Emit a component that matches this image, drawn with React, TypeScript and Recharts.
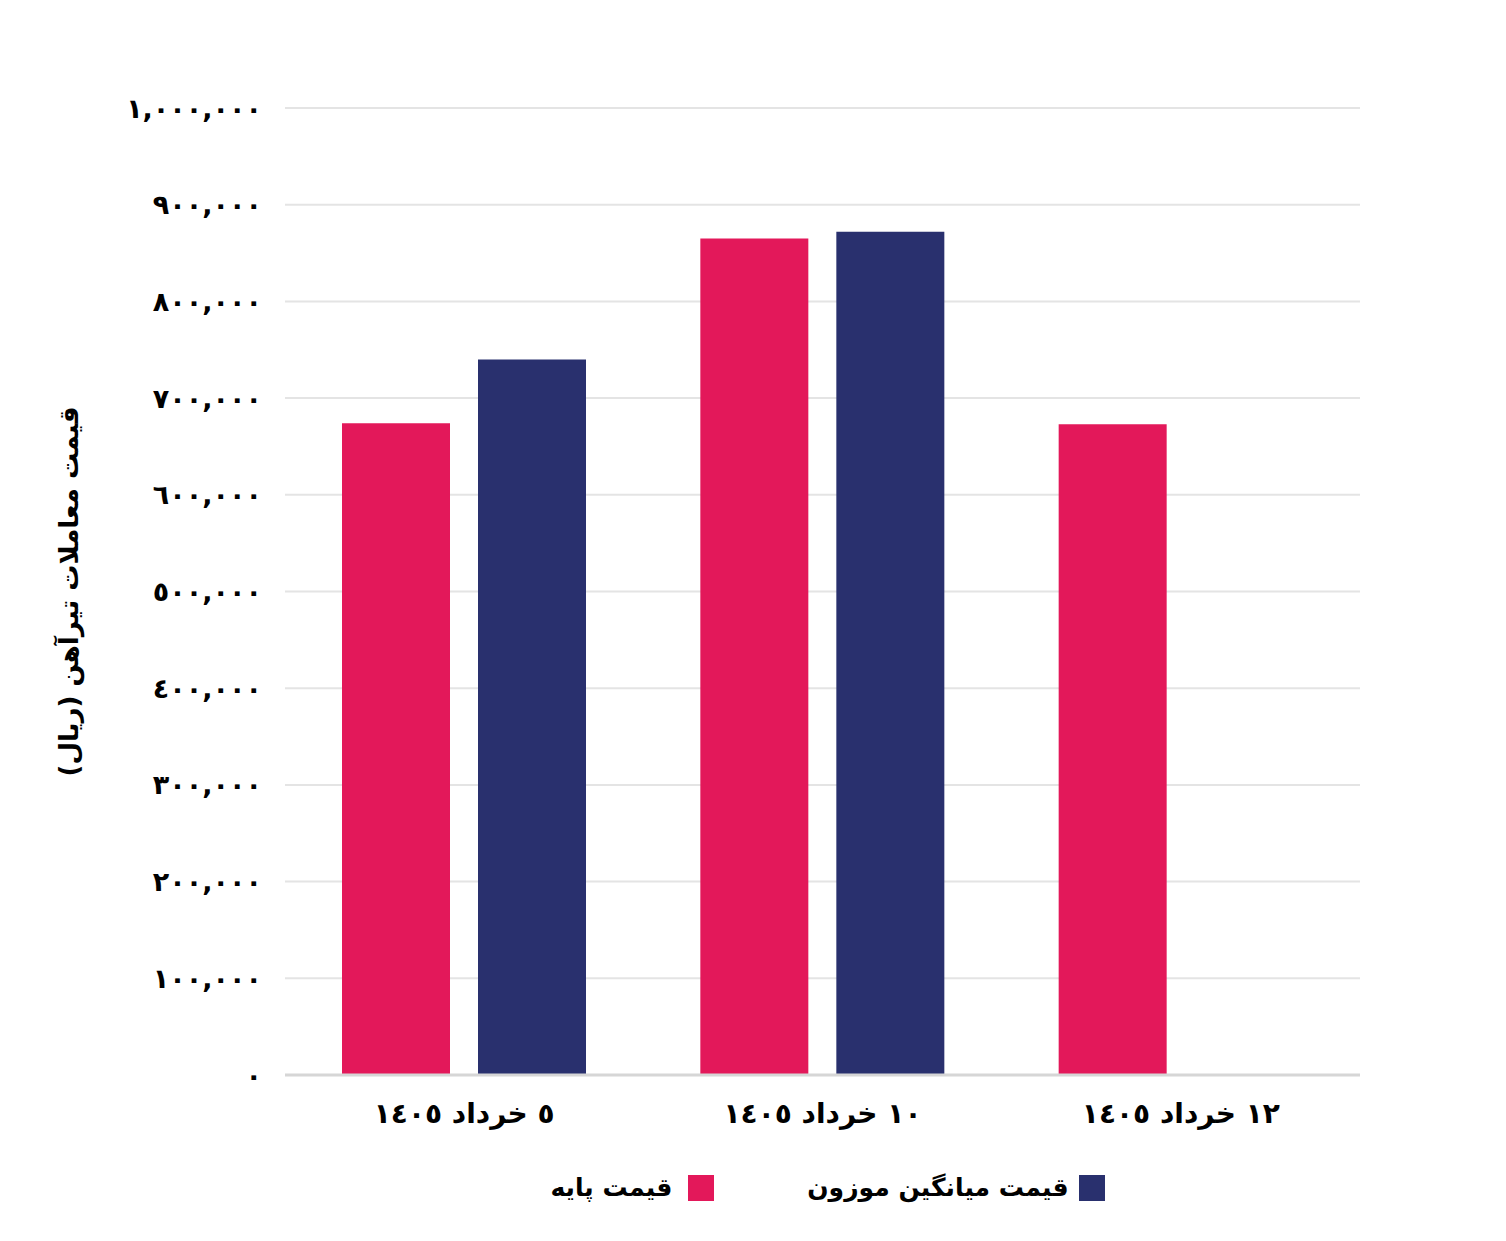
import React from 'react';
import { BarChart, Bar, XAxis, YAxis, CartesianGrid, Legend } from 'recharts';

const categories = ['٥ خرداد ١٤٠٥', '١٠ خرداد ١٤٠٥', '١٢ خرداد ١٤٠٥'];
const basePrice = [674000, 865000, 673000];
const weightedPrice: (number | null)[] = [740000, 872000, null];
const yTicks = [0, 100000, 200000, 300000, 400000, 500000, 600000, 700000, 800000, 900000, 1000000];

const PINK = '#E3185A';
const NAVY = '#29306E';
const FONT = '"DejaVu Sans", sans-serif';

const data = categories.map((c, i) => ({ name: c, base: basePrice[i], weighted: weightedPrice[i] }));

const toFa = (s: string) => s.replace(/[0-9]/g, (d) => String.fromCharCode(0x0660 + Number(d)));
const fmt = (v: number) => toFa(v.toLocaleString('en-US'));

const XTick = (props: any) => {
  const { x, y, payload } = props;
  return (
    <text x={x} y={y} dy={40} textAnchor="middle" fontFamily={FONT} fontWeight="bold" fontSize={28} fill="#000" direction="rtl">
      {payload.value}
    </text>
  );
};

const LegendContent = () => (
  <div style={{ display: 'flex', justifyContent: 'center', direction: 'rtl', fontFamily: FONT, fontWeight: 'bold', fontSize: 25, color: '#000', paddingLeft: 287 }}>
    <div style={{ display: 'flex', alignItems: 'center', marginLeft: 93 }}>
      <span style={{ width: 26, height: 26, background: NAVY, display: 'inline-block', marginLeft: 10 }} />
      <span>قیمت میانگین موزون</span>
    </div>
    <div style={{ display: 'flex', alignItems: 'center' }}>
      <span style={{ width: 26, height: 26, background: PINK, display: 'inline-block', marginLeft: 16 }} />
      <span>قیمت پایه</span>
    </div>
  </div>
);

export default function App() {
  return (
    <div style={{ width: 1490, height: 1225, background: '#fff' }}>
      <BarChart width={1490} height={1225} data={data} margin={{ top: 100, right: 138, bottom: 0, left: 0 }} barSize={108} barGap={28}>
        <CartesianGrid vertical={false} stroke="#e4e4e4" strokeWidth={2} />
        <XAxis dataKey="name" tick={<XTick />} tickLine={false} axisLine={{ stroke: '#d6d6d6', strokeWidth: 3 }} height={98} interval={0} />
        <YAxis
          width={277}
          domain={[0, 1000000]}
          ticks={yTicks}
          tickFormatter={fmt}
          tickLine={false}
          axisLine={false}
          tickMargin={17}
          tick={{ fontFamily: FONT, fontWeight: 'bold', fontSize: 27, fill: '#000' }}
          label={{
            content: (p: any) => {
              const vb = p.viewBox || {};
              const cy = (vb.y || 0) + (vb.height || 0) / 2;
              return (
                <text x={62} y={cy} transform={`rotate(-90 62 ${cy})`} textAnchor="middle" dominantBaseline="middle" fontFamily={FONT} fontWeight="bold" fontSize={26} fill="#000" direction="rtl">
                  قیمت معاملات تیرآهن (ریال)
                </text>
              );
            },
          }}
        />
        <Legend verticalAlign="bottom" height={60} content={<LegendContent />} />
        <Bar dataKey="base" name="قیمت پایه" fill={PINK} isAnimationActive={false} />
        <Bar dataKey="weighted" name="قیمت میانگین موزون" fill={NAVY} isAnimationActive={false} />
      </BarChart>
    </div>
  );
}
